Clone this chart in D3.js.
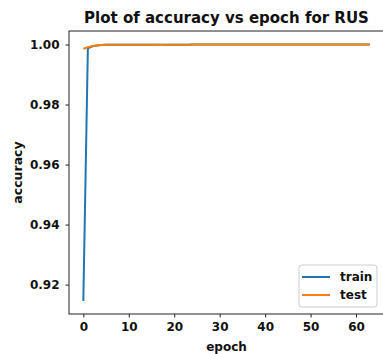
<!DOCTYPE html>
<html>
<head>
<meta charset="utf-8">
<script src="https://cdn.jsdelivr.net/npm/d3@7"></script>
<style>
  body { margin: 0; background: #fff; }
  text { font-family: "DejaVu Sans", sans-serif; font-weight: bold; fill: #111; }
</style>
</head>
<body>
<script>
const svg_width = 383;
const svg_height = 354;
const left = 69, top_ = 31, right = 384, bottom = 314;

const epochs = [0,1,2,3,4,5,6,7,8,9,10,11,12,13,14,15,16,17,18,19,20,21,22,23,24,25,26,27,28,29,30,31,
  32,33,34,35,36,37,38,39,40,41,42,43,44,45,46,47,48,49,50,51,52,53,54,55,56,57,58,59,60,61,62,63];
const train_acc = [0.9145,0.9987,0.9994,0.9997,0.9998,0.9999,0.99992,0.99993,0.99993,0.99994,0.99994,0.99994,
  0.99995,0.99995,0.99995,0.99995,0.99995,0.99996,0.99996,0.99996,0.99996,0.99996,0.99996,0.99996,
  0.99997,0.99997,0.99997,0.99997,0.99997,0.99997,0.99997,0.99997,0.99997,0.99997,0.99997,0.99997,
  0.99997,0.99997,0.99997,0.99997,0.99997,0.99997,0.99998,1.0,1.0,1.0,1.0,1.0,1.0,1.0,1.0,1.0,1.0,1.0,
  1.0,1.0,1.0,1.0,1.0,1.0,1.0,1.0,1.0,1.0];
const test_acc = [0.9986,0.9991,0.9995,0.9997,0.9998,0.9999,0.99992,0.99993,0.99993,0.99994,0.99994,0.99994,
  0.99995,0.99995,0.99995,0.99995,0.99995,0.99996,0.99996,0.99996,0.99996,0.99996,0.99996,0.99996,
  0.99997,0.99997,0.99997,0.99997,0.99997,0.99997,0.99997,0.99997,0.99997,0.99997,0.99997,0.99997,
  0.99997,0.99997,0.99997,0.99997,0.99997,0.99997,0.99998,1.0,1.0,1.0,1.0,1.0,1.0,1.0,1.0,1.0,1.0,1.0,
  1.0,1.0,1.0,1.0,1.0,1.0,1.0,1.0,1.0,1.0];
const x_ticks = [0,10,20,30,40,50,60];
const y_ticks = [0.92,0.94,0.96,0.98,1.00];
const series_names = ['train', 'test'];
const colors = ['#1f77b4', '#ff7f0e'];

const x = d3.scaleLinear().domain([-3.15, 66.15]).range([left, right]);
const y = d3.scaleLinear().domain([0.9102, 1.0045]).range([bottom, top_]);

const svg = d3.select('body').append('svg')
    .attr('width', svg_width)
    .attr('height', svg_height);

const plot = svg.append('g');

// axes
const x_axis = svg.append('g')
    .attr('transform', `translate(0,${bottom})`)
    .call(d3.axisBottom(x).tickValues(x_ticks).tickSize(3.5).tickPadding(5).tickFormat(d3.format('d')));
const y_axis = svg.append('g')
    .attr('transform', `translate(${left},0)`)
    .call(d3.axisLeft(y).tickValues(y_ticks).tickSize(3.5).tickPadding(6).tickFormat(d3.format('.2f')));
[x_axis, y_axis].forEach(a => {
  a.selectAll('text').style('font-size', '12px').style('font-family', '"DejaVu Sans", sans-serif').style('font-weight', 'bold').attr('fill', '#111');
  a.selectAll('line').attr('stroke', '#222');
  a.select('.domain').remove();
});

// frame
svg.append('rect')
    .attr('x', left).attr('y', top_)
    .attr('width', right - left).attr('height', bottom - top_)
    .attr('fill', 'none').attr('stroke', '#222').attr('stroke-width', 1);

const line = d3.line().x((d, i) => x(epochs[i])).y(d => y(d));
[train_acc, test_acc].forEach((s, i) => {
  plot.append('path')
      .attr('d', line(s))
      .attr('fill', 'none')
      .attr('stroke', colors[i])
      .attr('stroke-width', 2);
});

// title and labels
svg.append('text')
    .attr('x', (left + right) / 2).attr('y', 23)
    .attr('text-anchor', 'middle')
    .style('font-size', '15px')
    .text('Plot of accuracy vs epoch for RUS');
svg.append('text')
    .attr('x', (left + right) / 2).attr('y', 351)
    .attr('text-anchor', 'middle')
    .style('font-size', '12px')
    .text('epoch');
svg.append('text')
    .attr('transform', `translate(22,${(top_ + bottom) / 2}) rotate(-90)`)
    .attr('text-anchor', 'middle')
    .style('font-size', '12.5px')
    .text('accuracy');

// legend
const legend = svg.append('g').attr('transform', 'translate(299,265)');
legend.append('rect')
    .attr('width', 78).attr('height', 42).attr('rx', 3)
    .attr('fill', 'white').attr('fill-opacity', 0.8)
    .attr('stroke', '#ccc');
series_names.forEach((n, i) => {
  legend.append('line')
      .attr('x1', 3).attr('x2', 31)
      .attr('y1', 12 + i * 18).attr('y2', 12 + i * 18)
      .attr('stroke', colors[i]).attr('stroke-width', 2);
  legend.append('text')
      .attr('x', 41).attr('y', 16 + i * 18)
      .style('font-size', '12px')
      .text(n);
});
</script>
</body>
</html>
